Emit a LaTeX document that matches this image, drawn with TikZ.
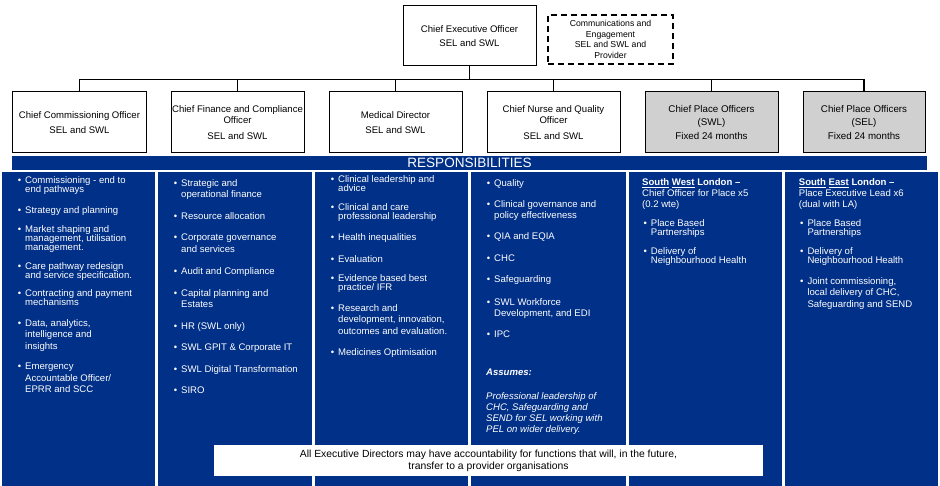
\documentclass[tikz,border=0pt]{standalone}
\usepackage{fontspec}
\setmainfont{Liberation Sans}
\usepackage{tikz}
\usetikzlibrary{positioning}
\definecolor{NhsNavy}{HTML}{003087}
\definecolor{PlaceGray}{HTML}{D0D0D0}
\newcommand{\respbul}{\llap{\textbullet\hspace{4bp}}}

\begin{document}
\begin{tikzpicture}[x=1bp,y=-1bp,
  box/.style={rectangle,draw=black,line width=1bp,fill=white,minimum width=133bp,
              minimum height=61bp,inner sep=0.5bp,outer sep=0pt,align=center,
              font=\fontsize{9.6}{10.7}\selectfont},
  placebox/.style={box,fill=PlaceGray,font=\fontsize{9.8}{14}\selectfont},
  conn/.style={line width=1.5bp},
  colfill/.style={fill=NhsNavy},
  resp/.style={anchor=north west,inner sep=0pt,align=left,text=white,
               font=\fontsize{9.6}{11.5}\selectfont},
  tightresp/.style={resp,font=\fontsize{9.6}{9}\selectfont},
  node distance=25bp
]
\useasboundingbox (0,0) rectangle (940,486);

%% Top of the chart
\node[box,minimum height=60bp] (ceo) at (469.5,36) {Chief Executive Officer\\[3.9bp]SEL and SWL};
\node[box,minimum width=125bp,minimum height=49bp,line width=1.5bp,dash pattern=on 6bp off 4bp,
      font=\fontsize{8.7}{10.5}\selectfont] (comms) at (610.5,39.5)
      {Communications and\\Engagement\\SEL and SWL and\\Provider};

%% Executive directors
\node[box] (cco) at (79.5,122.5) {Chief Commissioning Officer\\[4.3bp]SEL and SWL};
\node[box,right=of cco] (cfo)   {Chief Finance and Compliance\\Officer\\[5bp]SEL and SWL};
\node[box,right=of cfo] (md)    {Medical Director\\[4.3bp]SEL and SWL};
\node[box,right=of md]  (cnq)   {Chief Nurse and Quality\\Officer\\[5bp]SEL and SWL};
\node[placebox,right=of cnq]    (cposwl) {Chief Place Officers\\(SWL)\\Fixed 24 months};
\node[placebox,minimum width=122bp,right=of cposwl] (cposel) {Chief Place Officers\\(SEL)\\Fixed 24 months};

%% Connectors
\draw[conn] (ceo.south) -- ++(0,13.5);
\draw[conn] (cco.north) -- ++(0,-12.5) -| (cposel.north);
\draw[conn] (cfo.north) -- ++(0,-12.5);
\draw[conn] (md.north) -- ++(0,-12.5);
\draw[conn] (cnq.north) -- ++(0,-12.5);
\draw[conn] (cposwl.north) -- ++(0,-12.5);

%% Responsibilities
\node[fill=NhsNavy,minimum width=915bp,minimum height=14bp,inner sep=0pt,text=white,
      font=\fontsize{13.6}{14}\selectfont] (resphdr) at (469.5,163) {RESPONSIBILITIES};
\fill[colfill] (2,172) rectangle (155,486);
\fill[colfill] (158,172) rectangle (312,486);
\fill[colfill] (315,172) rectangle (468,486);
\fill[colfill] (471,172) rectangle (626,486);
\fill[colfill] (629,172) rectangle (782,486);
\fill[colfill] (785,172) rectangle (938,486);

%% Commissioning
\node[tightresp] (com1) at (25,176.1) {\respbul Commissioning - end to\\end pathways};
\node[resp] (com2) at (25,206.4) {\respbul Strategy and planning};
\node[tightresp] (com3) at (25,225.4) {\respbul Market shaping and\\management, utilisation\\management.};
\node[tightresp] (com4) at (25,262.1) {\respbul Care pathway redesign\\and service specification.};
\node[tightresp] (com5) at (25,289.1) {\respbul Contracting and payment\\mechanisms};
\node[resp] (com6) at (25,319.4) {\respbul Data, analytics,\\intelligence and\\insights};
\node[resp] (com7) at (25,363.1) {\respbul Emergency\\Accountable Officer/\\EPRR and SCC};

%% Finance
\node[resp] (fin1) at (181,179.1) {\respbul Strategic and\\operational finance};
\node[resp] (fin2) at (181,212.4) {\respbul Resource allocation};
\node[resp] (fin3) at (181,234.1) {\respbul Corporate governance\\and services};
\node[resp] (fin4) at (181,267.4) {\respbul Audit and Compliance};
\node[resp] (fin5) at (181,289.1) {\respbul Capital planning and\\Estates};
\node[resp] (fin6) at (181,322.1) {\respbul HR (SWL only)};
\node[resp] (fin7) at (181,344.1) {\respbul SWL GPIT \& Corporate IT};
\node[resp] (fin8) at (181,365.7) {\respbul SWL Digital Transformation};
\node[resp] (fin9) at (181,387.1) {\respbul SIRO};

%% Medical
\node[tightresp] (med1) at (338,175.7) {\respbul Clinical leadership and\\advice};
\node[tightresp] (med2) at (338,203.7) {\respbul Clinical and care\\professional leadership};
\node[resp] (med3) at (338,233.7) {\respbul Health inequalities};
\node[resp] (med4) at (338,255.4) {\respbul Evaluation};
\node[tightresp] (med5) at (338,274.4) {\respbul Evidence based best\\practice/ IFR};
\node[resp] (med6) at (338,304.1) {\respbul Research and\\development, innovation,\\outcomes and evaluation.};
\node[resp] (med7) at (338,348.4) {\respbul Medicines Optimisation};

%% Nursing and quality
\node[resp] (nur1) at (494,179.1) {\respbul Quality};
\node[resp] (nur2) at (494,200.1) {\respbul Clinical governance and\\policy effectiveness};
\node[resp] (nur3) at (494,232.7) {\respbul QIA and EQIA};
\node[resp] (nur4) at (494,254.4) {\respbul CHC};
\node[resp] (nur5) at (494,275.7) {\respbul Safeguarding};
\node[resp] (nur6) at (494,298.1) {\respbul SWL Workforce\\Development, and EDI};
\node[resp] (nur7) at (494,331.1) {\respbul IPC};
\node[resp] (assumes) at (486,368.7) {\textbf{\textit{Assumes:}}};
\node[resp,font=\fontsize{9.6}{11.2}\selectfont\itshape] (assumestxt) at (486,392.1)
  {Professional leadership of\\CHC, Safeguarding and\\SEND for SEL working with\\PEL on wider delivery.};

%% Place (SWL)
\node[resp,font=\fontsize{9.6}{11.2}\selectfont] (swlhead) at (642,178.4)
  {\textbf{\underline{South} \underline{West} London –}\\Chief Officer for Place x5\\(0.2 wte)};
\node[tightresp] (swl1) at (650.7,219.4) {\respbul Place Based\\Partnerships};
\node[tightresp] (swl2) at (650.7,247.1) {\respbul Delivery of\\Neighbourhood Health};

%% Place (SEL)
\node[resp,font=\fontsize{9.6}{11.2}\selectfont] (selhead) at (798.7,178.4)
  {\textbf{\underline{South} \underline{East} London –}\\Place Executive Lead x6\\(dual with LA)};
\node[tightresp] (sel1) at (807.3,219.4) {\respbul Place Based\\Partnerships};
\node[tightresp] (sel2) at (807.3,247.1) {\respbul Delivery of\\Neighbourhood Health};
\node[resp] (sel3) at (807.3,277.1) {\respbul Joint commissioning,\\local delivery of CHC,\\Safeguarding and SEND};

%% Note
\node[fill=white,minimum width=549bp,minimum height=31bp,inner sep=0pt,align=center,
      font=\fontsize{10.4}{11.7}\selectfont] (allexec) at (488.5,460.5)
  {All Executive Directors may have accountability for functions that will, in the future,\\transfer to a provider organisations};

\end{tikzpicture}
\end{document}
